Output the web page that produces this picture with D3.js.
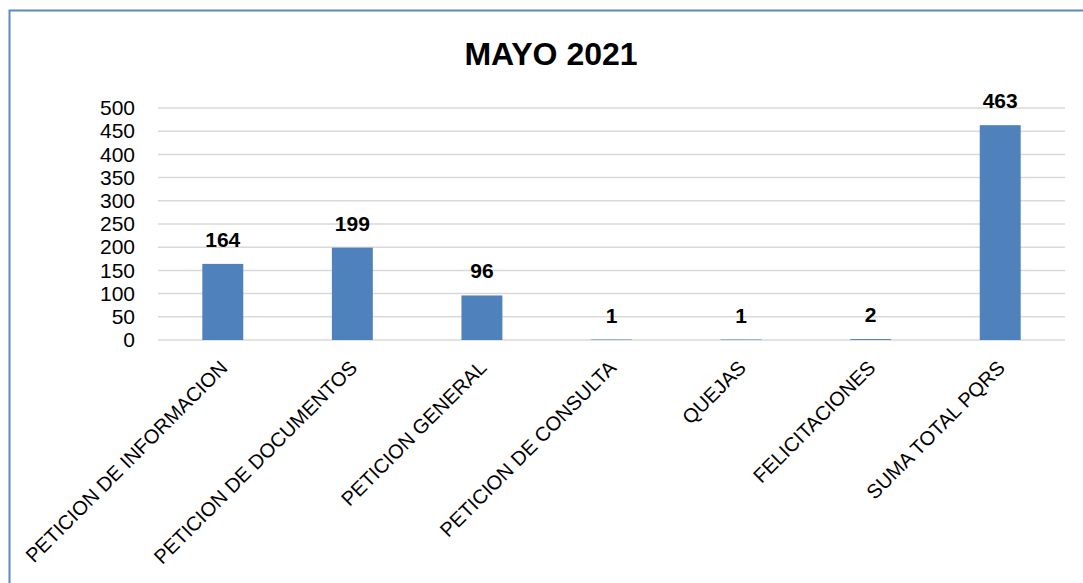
<!DOCTYPE html>
<html>
<head>
<meta charset="utf-8">
<script src="https://cdn.jsdelivr.net/npm/d3@7"></script>
<style>
  body { margin: 0; background: #fff; }
  svg { display: block; font-family: "Liberation Sans", Arial, sans-serif; }
</style>
</head>
<body>
<div id="chart"></div>
<script>
// data
const categories = [
    "PETICION DE INFORMACION",
    "PETICION DE DOCUMENTOS",
    "PETICION GENERAL",
    "PETICION DE CONSULTA",
    "QUEJAS",
    "FELICITACIONES",
    "SUMA TOTAL PQRS"
];
const values = [164, 199, 96, 1, 1, 2, 463];
const yTicks = [0, 50, 100, 150, 200, 250, 300, 350, 400, 450, 500];
const title = "MAYO 2021";

const width = 1083, height = 583;
const margin = {top: 108, right: 18, bottom: 243, left: 158};

const svg = d3.select("#chart")
    .append("svg")
        .attr("width", width)
        .attr("height", height);

// frame (runs off the right and bottom edges in the reference)
svg.append("rect")
    .attr("x", 9.5)
    .attr("y", 10.5)
    .attr("width", 1200)
    .attr("height", 700)
    .attr("fill", "none")
    .attr("stroke", "#5b8ac6")
    .attr("stroke-width", 2);

svg.append("text")
    .attr("x", 551)
    .attr("y", 65)
    .attr("text-anchor", "middle")
    .attr("font-size", 32)
    .attr("font-weight", "bold")
    .attr("fill", "#000")
    .text(title);

const innerW = width - margin.left - margin.right;
const innerH = height - margin.top - margin.bottom;

const chart = svg.append("g")
    .attr("transform", `translate(${margin.left},${margin.top})`);

const xScale = d3.scaleBand()
    .domain(categories)
    .range([0, innerW])
    .paddingInner(0.684)
    .paddingOuter(0.342);

const yScale = d3.scaleLinear()
    .domain([0, 500])
    .range([innerH, 0]);

// gridlines
chart.append("g")
    .selectAll("line")
    .data(yTicks)
    .join("line")
        .attr("x1", 0)
        .attr("x2", innerW)
        .attr("y1", d => yScale(d))
        .attr("y2", d => yScale(d))
        .attr("stroke", "#d9d9d9")
        .attr("stroke-width", 1.5);

// y axis labels
const yAxis = d3.axisLeft(yScale)
    .tickValues(yTicks)
    .tickSize(0)
    .tickPadding(23);

chart.append("g")
    .attr("class", "y-axis")
    .call(yAxis)
    .call(g => g.select(".domain").remove())
    .call(g => g.selectAll("text")
        .attr("font-size", 21)
        .attr("font-family", "Liberation Sans, Arial, sans-serif")
        .attr("fill", "#000"));

// bars
chart.selectAll(".bar")
    .data(values)
    .join("rect")
        .attr("class", "bar")
        .attr("x", (d, i) => xScale(categories[i]))
        .attr("y", d => yScale(d))
        .attr("width", xScale.bandwidth())
        .attr("height", d => yScale(0) - yScale(d))
        .attr("fill", "#4f81bd");

// value labels
chart.selectAll(".value")
    .data(values)
    .join("text")
        .attr("class", "value")
        .attr("x", (d, i) => xScale(categories[i]) + xScale.bandwidth() / 2)
        .attr("y", d => yScale(d) - 17)
        .attr("text-anchor", "middle")
        .attr("font-size", 21)
        .attr("font-weight", "bold")
        .attr("fill", "#000")
        .text(d => d);

// x axis with rotated labels
const xAxis = d3.axisBottom(xScale)
    .tickSize(0)
    .tickPadding(0);

chart.append("g")
    .attr("class", "x-axis")
    .attr("transform", `translate(0,${innerH})`)
    .call(xAxis)
    .call(g => g.select(".domain").remove())
    .call(g => g.selectAll("text")
        .attr("font-size", 20)
        .attr("font-family", "Liberation Sans, Arial, sans-serif")
        .attr("fill", "#000")
        .attr("text-anchor", "end")
        .attr("dy", 0)
        .attr("y", 0)
        .attr("transform", "translate(6,29) rotate(-45)"));
</script>
</body>
</html>
